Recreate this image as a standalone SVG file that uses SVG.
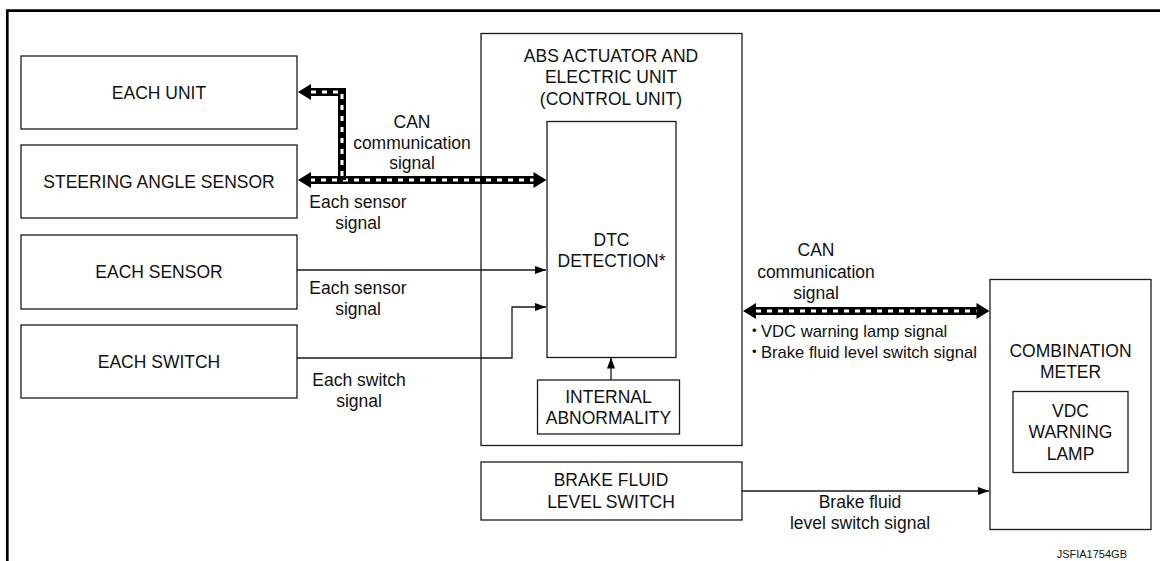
<svg xmlns="http://www.w3.org/2000/svg" width="1160" height="561" viewBox="0 0 1160 561">
<defs>
<style>
.box{fill:#fff;stroke:#1a1a1a;stroke-width:1.3}
.t{font-family:"Liberation Sans",Arial,"Noto Sans CJK JP",sans-serif;font-size:17.5px;fill:#111;text-anchor:middle}
.tl{text-anchor:start;font-size:16.6px}
.thin{fill:none;stroke:#1a1a1a;stroke-width:1.3}
.busb{fill:none;stroke:#000;stroke-width:8}
.busw{fill:none;stroke:#fff;stroke-width:3;stroke-dasharray:5 6}
.ah{fill:#000}
</style>
<marker id="arr" markerUnits="userSpaceOnUse" markerWidth="12" markerHeight="10" refX="11" refY="4" orient="auto">
<path d="M0,0 L11,4 L0,8 z" fill="#000"/>
</marker>
</defs>
<rect width="1160" height="561" fill="#fff"/>
<path d="M7.3,561 V10.7 H1160" fill="none" stroke="#000" stroke-width="2.7"/>

<g id="each-unit"><rect class="box" x="21" y="56" width="276" height="73"/><text class="t" x="159" y="99">EACH UNIT</text></g>
<g id="steering-angle-sensor"><rect class="box" x="21" y="145" width="276" height="73"/><text class="t" x="159" y="188">STEERING ANGLE SENSOR</text></g>
<g id="each-sensor"><rect class="box" x="21" y="235" width="276" height="74"/><text class="t" x="159" y="278">EACH SENSOR</text></g>
<g id="each-switch"><rect class="box" x="21" y="325" width="276" height="73"/><text class="t" x="159" y="368">EACH SWITCH</text></g>

<g id="abs-unit"><rect class="box" x="481" y="33.5" width="261" height="412"/>
<text class="t" x="611" y="61.5">ABS ACTUATOR AND</text>
<text class="t" x="611" y="83">ELECTRIC UNIT</text>
<text class="t" x="611" y="104.5">(CONTROL UNIT)</text></g>
<g id="dtc-detection"><rect class="box" x="547" y="121.5" width="129" height="236"/>
<text class="t" x="611.5" y="245.5">DTC</text>
<text class="t" x="611.5" y="267">DETECTION*</text></g>
<g id="internal-abnormality"><rect class="box" x="537.5" y="380" width="142" height="54"/>
<text class="t" x="608.5" y="403">INTERNAL</text>
<text class="t" x="608.5" y="424">ABNORMALITY</text></g>
<g id="brake-fluid-level-switch"><rect class="box" x="481" y="462" width="261" height="58"/>
<text class="t" x="611" y="486">BRAKE FLUID</text>
<text class="t" x="611" y="507.5">LEVEL SWITCH</text></g>
<g id="combination-meter"><rect class="box" x="990" y="279.5" width="161" height="250"/>
<text class="t" x="1070.5" y="356.5">COMBINATION</text>
<text class="t" x="1070.5" y="377.5">METER</text></g>
<g id="vdc-warning-lamp"><rect class="box" x="1013" y="391.5" width="115" height="81"/>
<text class="t" x="1070.5" y="416.5">VDC</text>
<text class="t" x="1070.5" y="438">WARNING</text>
<text class="t" x="1070.5" y="459.5">LAMP</text></g>

<g id="connectors">
<path class="busb" d="M310,180 H534"/>
<path class="busw" d="M310,180 H534"/>
<path class="busb" d="M342,180 V92 H310"/>
<path class="busw" d="M342,176 V92 H310"/>
<polygon class="ah" points="298,180 311,172 311,188"/>
<polygon class="ah" points="546.5,180 533.5,172 533.5,188"/>
<polygon class="ah" points="298,92 311,84 311,100"/>

<path class="busb" d="M755,311 H977"/>
<path class="busw" d="M756,311 H977"/>
<polygon class="ah" points="743,311 756,303 756,319"/>
<polygon class="ah" points="989.5,311 976.5,303 976.5,319"/>

<path class="thin" d="M297,270 H546" marker-end="url(#arr)"/>
<path class="thin" d="M297,358 H512 V307 H546" marker-end="url(#arr)"/>
<path class="thin" d="M611,380 V357.5" marker-end="url(#arr)"/>
<path class="thin" d="M742,491 H989" marker-end="url(#arr)"/>
</g>

<g id="labels">
<text class="t" x="412" y="128">CAN</text>
<text class="t" x="412" y="148.5">communication</text>
<text class="t" x="412" y="169">signal</text>
<text class="t" x="358" y="207.5">Each sensor</text>
<text class="t" x="358" y="229">signal</text>
<text class="t" x="358" y="294">Each sensor</text>
<text class="t" x="358" y="315">signal</text>
<text class="t" x="359" y="386">Each switch</text>
<text class="t" x="359" y="407">signal</text>
<text class="t" x="816" y="256">CAN</text>
<text class="t" x="816" y="277.5">communication</text>
<text class="t" x="816" y="299">signal</text>
<text class="t tl" x="746" y="336.5">・<tspan x="761">VDC warning lamp signal</tspan></text>
<text class="t tl" x="746" y="357.5">・<tspan x="761">Brake fluid level switch signal</tspan></text>
<text class="t" x="860" y="508">Brake fluid</text>
<text class="t" x="860" y="529">level switch signal</text>
<text class="t" x="1127" y="558" style="text-anchor:end;font-size:11px">JSFIA1754GB</text>
</g>
</svg>
